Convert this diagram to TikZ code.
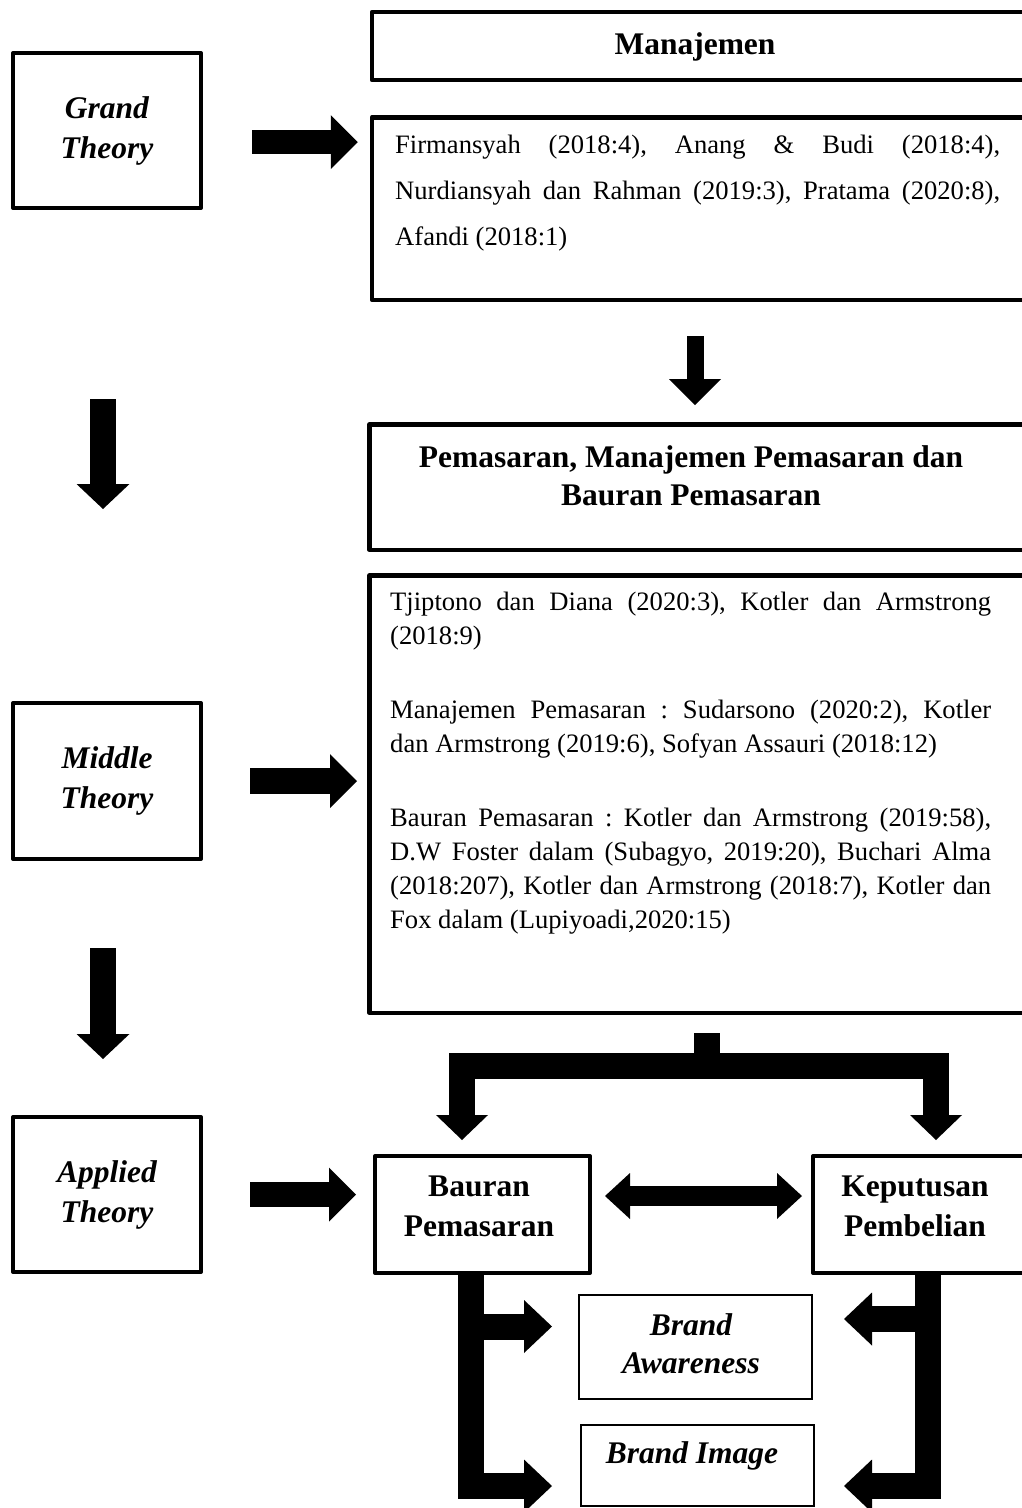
\documentclass[tikz,border=0pt]{standalone}
\usepackage{fontspec}
\setmainfont{Liberation Serif}
\usetikzlibrary{calc,arrows.meta}
\hyphenpenalty=10000
\exhyphenpenalty=10000
\frenchspacing
\setlength{\parindent}{0pt}

\begin{document}
\begin{tikzpicture}[x=1pt,y=-1pt,
    thickbox/.style={draw,line width=4pt,line join=round,inner sep=0pt},
    bigbox/.style={draw,line width=4.5pt,line join=round,inner sep=0pt},
    thinbox/.style={draw,line width=2pt,inner sep=0pt},
    bigtxt/.style={font=\fontsize{31.5}{40}\selectfont\bfseries,align=center,inner sep=0pt},
    themetxt/.style={font=\fontsize{31.5}{40}\selectfont\bfseries\itshape,align=center,inner sep=0pt},
    reftxt/.style={font=\fontsize{26.6}{34}\selectfont\frenchspacing,text width=601pt,align=justify,inner sep=0pt,anchor=north west},
    fat/.style={line width=26pt,-{Triangle[length=27pt,width=54pt,line width=0pt]}},
    fatdown/.style={line width=26pt,-{Triangle[length=25pt,width=53pt,line width=0pt]}},
    fork/.style={line width=26pt,-{Triangle[length=25pt,width=52pt,line width=0pt]}},
    branch/.style={line width=26pt,-{Triangle[length=28pt,width=53pt,line width=0pt]}},
    dbl/.style={line width=20pt,{Triangle[length=25pt,width=46pt,line width=0pt]}-{Triangle[length=25pt,width=46pt,line width=0pt]}}]
    \useasboundingbox (0,0) rectangle (1022,1508);
    \fill[white] (0,0) rectangle (1022,1508);
    \clip (0,0) rectangle (1022,1508);

    % theory levels
    \node[thickbox,themetxt,minimum width=188pt,minimum height=155pt] (grand) at (107,130.5) {Grand\\Theory};
    \node[thickbox,themetxt,minimum width=188pt,minimum height=156pt] (middle) at (107,781) {Middle\\Theory};
    \node[thickbox,themetxt,minimum width=188pt,minimum height=155pt] (applied) at (107,1194.5) {Applied\\Theory};

    % grand theory
    \node[bigbox,minimum width=654pt,minimum height=68pt] (man) at (699,46) {};
    \node[bigtxt,anchor=base] (mantxt) at (695,54) {Manajemen};
    \node[bigbox,minimum width=654pt,minimum height=182.5pt] (firm) at (699,208.5) {};
    \node[reftxt,text width=605pt,font=\fontsize{26.6}{46}\selectfont\frenchspacing] (firmtxt) at (395,135)
        {Firmansyah (2018:4), Anang \& Budi (2018:4),\linebreak
         Nurdiansyah dan Rahman (2019:3), Pratama (2020:8),\linebreak
         Afandi (2018:1)};

    % middle theory
    \node[bigbox,minimum width=656.5pt,minimum height=125.5pt] (pem) at (697.75,487) {};
    \node[bigtxt,anchor=north,font=\fontsize{31.5}{38}\selectfont\bfseries] (pemtxt) at (691,445)
        {Pemasaran, Manajemen Pemasaran dan\\Bauran Pemasaran};
    \node[bigbox,minimum width=656.5pt,minimum height=437.5pt] (tjip) at (697.75,794) {};
    \node[reftxt] (tjiptxt) at (390,592)
        {Tjiptono dan Diana (2020:3), Kotler dan Armstrong\linebreak
         (2018:9)\par\vspace{40pt}
         Manajemen Pemasaran : Sudarsono (2020:2), Kotler\linebreak
         dan Armstrong (2019:6), Sofyan Assauri (2018:12)\par\vspace{40pt}
         Bauran Pemasaran : Kotler dan Armstrong (2019:58),\linebreak
         D.W Foster dalam (Subagyo, 2019:20), Buchari Alma\linebreak
         (2018:207), Kotler dan Armstrong (2018:7), Kotler dan\linebreak
         Fox dalam (Lupiyoadi,2020:15)};

    % applied theory
    \node[thickbox,minimum width=215pt,minimum height=117pt] (bauran) at (482.5,1214.5) {};
    \node[bigtxt] (baurantxt) at (479,1206) {Bauran\\Pemasaran};
    \node[thickbox,minimum width=213pt,minimum height=117pt] (kep) at (919.5,1214.5) {};
    \node[bigtxt] (keptxt) at (915,1206) {Keputusan\\Pembelian};
    \node[thinbox,minimum width=233pt,minimum height=104pt] (bawr) at (695.5,1347) {};
    \node[themetxt,font=\fontsize{31.5}{38}\selectfont\bfseries\itshape] (bawrtxt) at (691,1344) {Brand\\Awareness};
    \node[thinbox,minimum width=233pt,minimum height=81pt] (bimg) at (697.5,1465.5) {};
    \node[themetxt,anchor=base] (bimgtxt) at (692,1463) {Brand Image};

    % arrows
    \path ([yshift=-11.5pt]grand.east) coordinate (g1);
    \path ([xshift=-4pt]firm.south) coordinate (f1);
    \draw[fat,line width=24pt,shorten <=49pt,shorten >=12pt] (g1) -- (g1 -| firm.west);
    \draw[fat,shorten <=47pt,shorten >=10.25pt] (middle.east) -- (middle.east -| tjip.west);
    \draw[fat,line width=25pt,shorten <=47pt,shorten >=17pt] (applied.east) -- (applied.east -| bauran.west);
    \draw[fatdown,shorten <=189pt,shorten >=192pt] ([xshift=-4pt]grand.south) -- ([xshift=-4pt]middle.north);
    \draw[fatdown,shorten <=87pt,shorten >=56pt] ([xshift=-4pt]middle.south) -- ([xshift=-4pt]applied.north);
    \draw[fat,line width=17pt,-{Triangle[length=26pt,width=52pt,line width=0pt]},shorten <=34pt,shorten >=17pt] (f1) -- (f1 |- pem.north);

    \coordinate (fork) at (707,1066);
    \coordinate (forkL) at (462,1066);
    \coordinate (forkR) at (936,1066);
    \draw[fork,shorten <=18pt,shorten >=14pt] (fork |- tjip.south) -- (fork) -- (forkL) -- (forkL |- bauran.north);
    \draw[fork,shorten >=14pt] (fork) -- (forkR) -- (forkR |- kep.north);

    \draw[dbl,shorten <=13pt,shorten >=9pt] ([yshift=18.5pt]bauran.east) -- ([yshift=18.5pt]kep.west);

    \coordinate (barL) at (470.5,1486);
    \coordinate (armL) at (470.5,1326.5);
    \coordinate (barR) at (928,1486);
    \coordinate (armR) at (928,1319);
    \draw[branch,shorten >=28pt] (barL |- bauran.south) -- (barL) -- (barL -| bimg.west);
    \draw[branch,shorten >=26pt] (armL) -- (armL -| bawr.west);
    \draw[branch,shorten >=29pt] (barR |- kep.south) -- (barR) -- (barR -| bimg.east);
    \draw[branch,shorten >=31pt] (armR) -- (armR -| bawr.east);
\end{tikzpicture}
\end{document}
